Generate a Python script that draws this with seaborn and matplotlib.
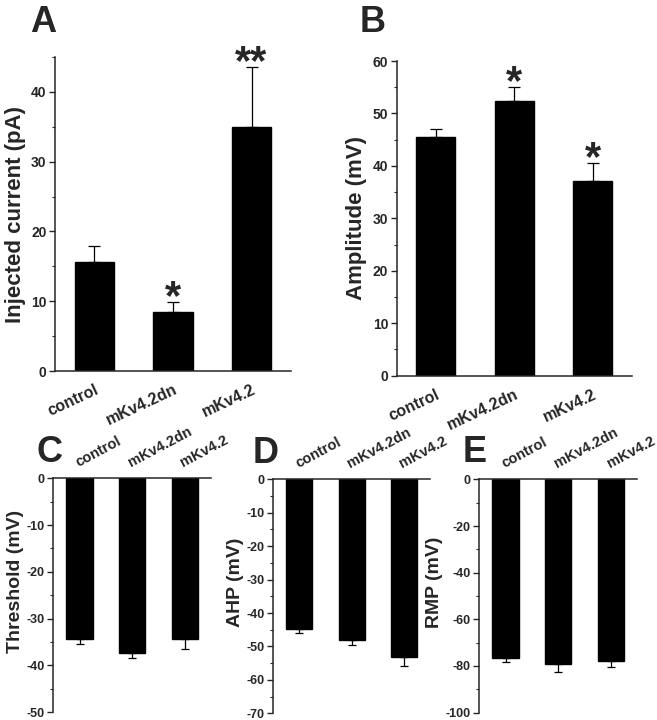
import numpy as np
import matplotlib
matplotlib.use("Agg")
import matplotlib.pyplot as plt
from matplotlib.ticker import MultipleLocator
import seaborn as sns
import pandas as pd

# groups
groups = ["control", "mKv4.2dn", "mKv4.2"]

# A: injected current (pA), mean and SEM
current = [15.6, 8.5, 35.0]
current_err = [2.3, 1.35, 8.6]
current_stars = ["", "*", "**"]

# B: spike amplitude (mV)
amplitude = [45.5, 52.4, 37.1]
amplitude_err = [1.5, 2.6, 3.5]
amplitude_stars = ["", "*", "*"]

# C: threshold (mV)
threshold = [-34.4, -37.4, -34.3]
threshold_err = [1.0, 1.0, 2.1]

# D: AHP (mV)
ahp = [-44.7, -48.1, -53.3]
ahp_err = [1.4, 1.4, 2.5]

# E: resting membrane potential (mV)
rmp = [-76.5, -79.1, -77.7]
rmp_err = [1.9, 3.3, 2.8]

sns.set_style("ticks")
plt.rcParams['font.family'] = ['Liberation Sans', 'DejaVu Sans']
plt.rcParams['font.weight'] = 'bold'
plt.rcParams['axes.labelweight'] = 'bold'
plt.rcParams['axes.linewidth'] = 1.1
plt.rcParams['axes.unicode_minus'] = False


def bar_panel(ax, vals, errs, ylim, major, minor, ylabel, big=True):
    df = pd.DataFrame({"group": groups, "value": vals})
    sns.barplot(data=df, x="group", y="value", color="black", width=0.5,
                errorbar=None, saturation=1, ax=ax)
    for p in ax.patches:
        p.set_edgecolor("black")
    # one-sided error bars away from zero
    errs = np.array(errs)
    if np.mean(vals) > 0:
        yerr = [np.zeros(3), errs]
    else:
        yerr = [errs, np.zeros(3)]
    ax.errorbar(range(3), vals, yerr=yerr, fmt="none", ecolor="black",
                elinewidth=0.9, capsize=4 if big else 3, capthick=0.9)
    ax.set_ylim(*ylim)
    ax.set_xlim(-0.5, 2.5)
    ticks = np.arange(ylim[0], ylim[1] + 0.1, major)
    ax.set_yticks(ticks)
    ax.set_yticklabels([f"{int(t)}" for t in ticks], fontweight="bold",
                       fontsize=10 if big else 9)
    ax.yaxis.set_minor_locator(MultipleLocator(minor))
    ax.tick_params(axis="y", which="major", length=4, width=1, direction="out", pad=2)
    ax.tick_params(axis="y", which="minor", length=2.5, width=0.8, direction="out")
    ax.tick_params(axis="x", length=0)
    ax.set_xlabel("")
    if big:
        ax.set_ylabel(ylabel, fontsize=16, labelpad=4, fontweight="bold")
        sns.despine(ax=ax)
        ax.set_xticks(range(3))
        ax.set_xticklabels(groups, rotation=25, ha="right", va="top",
                           rotation_mode="anchor", fontsize=11.5, fontweight="bold")
        ax.tick_params(axis="x", pad=8)
    else:
        ax.set_ylabel(ylabel, fontsize=14, labelpad=2, fontweight="bold")
        ax.yaxis.label.set_y(0.56)
        ax.spines["bottom"].set_visible(False)
        ax.spines["right"].set_visible(False)
        ax.spines["top"].set_visible(True)
        ax.xaxis.set_ticks_position("top")
        ax.set_xticks(range(3))
        ax.set_xticklabels(groups, rotation=28, ha="left", va="bottom",
                           rotation_mode="anchor", fontsize=10.5, fontweight="bold")
        ax.tick_params(axis="x", pad=6, top=False)
    return ax


fig = plt.figure(figsize=(6.57, 7.2), dpi=100)

axA = fig.add_axes([0.0837, 0.4847, 0.359, 0.436])
bar_panel(axA, current, current_err, (0, 45), 10, 5, "Injected current (pA)")
axA.set_yticks(np.arange(0, 41, 10))
axA.set_yticklabels(["0", "10", "20", "30", "40"], fontweight="bold", fontsize=10)
axB = fig.add_axes([0.6038, 0.4782, 0.3577, 0.437])
bar_panel(axB, amplitude, amplitude_err, (0, 60), 10, 5, "Amplitude (mV)")
axC = fig.add_axes([0.0811, 0.0107, 0.240, 0.325])
bar_panel(axC, threshold, threshold_err, (-50, 0), 10, 5, "Threshold (mV)", big=False)
axD = fig.add_axes([0.416, 0.0093, 0.2385, 0.325])
bar_panel(axD, ahp, ahp_err, (-70, 0), 10, 5, "AHP (mV)", big=False)
axE = fig.add_axes([0.7295, 0.0102, 0.2405, 0.324])
bar_panel(axE, rmp, rmp_err, (-100, 0), 20, 10, "RMP (mV)", big=False)
axA.set_ylim(0, 45)

# significance stars
for ax, vals, errs, stars in [(axA, current, current_err, current_stars),
                              (axB, amplitude, amplitude_err, amplitude_stars)]:
    for i, s in enumerate(stars):
        if s:
            ax.annotate(s, xy=(i, vals[i] + errs[i]), xytext=(0, -5),
                        textcoords="offset points", ha="center", va="baseline",
                        fontsize=30, fontweight="bold", annotation_clip=False)

# panel letters
for x, y, s in [(30, 32, "A"), (360, 32, "B"), (37, 462, "C"), (253, 463, "D"), (463, 462, "E")]:
    fig.text(x / 657, 1 - y / 720, s, fontsize=26, fontweight="bold",
             ha="left", va="baseline")

fig.savefig("out.png", dpi=100)
